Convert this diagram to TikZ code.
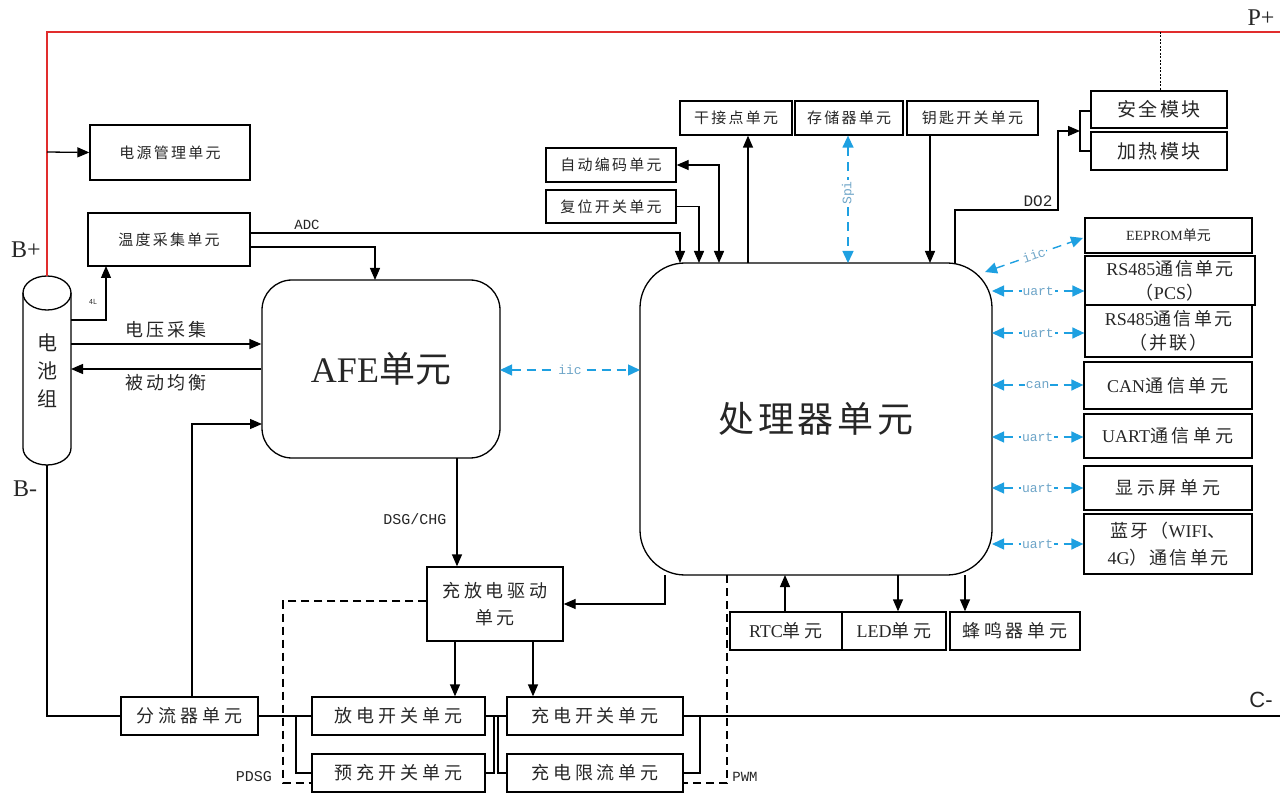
\documentclass[tikz,border=0pt]{standalone}
\usepackage{fontspec}
\setmainfont{Noto Sans CJK SC}
\newfontfamily\lat{Liberation Serif}
\newfontfamily\mono{Liberation Mono}
\newfontfamily\lsans{Liberation Sans}
\usetikzlibrary{arrows.meta,calc}
\definecolor{bl}{RGB}{30,160,225}
\definecolor{bll}{RGB}{110,165,200}
\definecolor{rd}{RGB}{225,45,45}
\begin{document}
\begin{tikzpicture}[x=1pt,y=-1pt,
 box/.style={draw,line width=1.3pt,inner sep=0pt,align=center,text=black!85},
 arr/.style={line width=1.3pt,-{Triangle[length=12pt,width=10pt]}},
 darr/.style={line width=1.3pt,{Triangle[length=12pt,width=10pt]}-{Triangle[length=12pt,width=10pt]}},
 ln/.style={line width=1.3pt},
 dsh/.style={line width=1.2pt,dash pattern=on 8pt off 5pt},
 barr/.style={bl,line width=1.4pt,dash pattern=on 9pt off 6pt,{Triangle[length=12pt,width=11pt]}-{Triangle[length=12pt,width=11pt]}},
 blab/.style={fill=white,text=bll,inner sep=1pt,font=\mono\fontsize{13}{14}\selectfont},
 lab/.style={inner sep=0pt,text=black!85},
 mlab/.style={inner sep=0pt,text=black!85,font=\mono\fontsize{14}{15}\selectfont},
 t14/.style={font=\fontsize{14}{16}\selectfont},
 t15/.style={font=\fontsize{15}{18}\selectfont\addfontfeature{LetterSpace=15}},
 t17/.style={font=\fontsize{18}{24}\selectfont\addfontfeature{LetterSpace=12}},
 t18/.style={font=\fontsize{18}{27}\selectfont\addfontfeature{LetterSpace=22}},
 t19/.style={font=\fontsize{19}{22}\selectfont\addfontfeature{LetterSpace=14}},
]
\useasboundingbox (0,0) rectangle (1286,794);

% ---------- nodes ----------
\node[box,minimum width=160,minimum height=55,t15] (pwr) at (170,152.5) {电源管理单元};
\node[box,minimum width=162,minimum height=53,t15] (temp) at (169,239.5) {温度采集单元};
\node[box,minimum width=238,minimum height=178,rounded corners=30pt,font=\fontsize{36}{40}\selectfont] (afe) at (381,369) {{\lat AFE}单元};
\node[box,minimum width=352,minimum height=312,rounded corners=45pt,font=\fontsize{36}{40}\selectfont\addfontfeature{LetterSpace=10}] (proc) at (816,419) {\raisebox{4pt}{处理器单元}};
\node[box,minimum width=130,minimum height=34,t15] (auto) at (611,165) {自动编码单元};
\node[box,minimum width=130,minimum height=33,t15] (reset) at (611,206.5) {复位开关单元};
\node[box,minimum width=112,minimum height=34,t15] (dry) at (736,118) {干接点单元};
\node[box,minimum width=108,minimum height=34,t15] (mem) at (849,118) {存储器单元};
\node[box,minimum width=131,minimum height=34,t15] (key) at (972.5,118) {钥匙开关单元};
\node[box,minimum width=136,minimum height=37,t19] (safe) at (1159,109.5) {安全模块};
\node[box,minimum width=136,minimum height=38,t19] (heat) at (1159,151) {加热模块};
\node[box,minimum width=167,minimum height=35,t14] (eep) at (1168.5,235.5) {{\lat EEPROM}单元};
\node[box,minimum width=170,minimum height=49,t17] (rs1) at (1170,280.5) {{\lat RS485}通信单元\\（{\lat PCS}）};
\node[box,minimum width=167,minimum height=52,t17] (rs2) at (1168.5,331) {{\lat RS485}通信单元\\（并联）};
\node[box,minimum width=168,minimum height=47,t18] (can) at (1168,385.5) {{\lat CAN}通信单元};
\node[box,minimum width=168,minimum height=44,t18] (uartb) at (1168,436) {{\lat UART}通信单元};
\node[box,minimum width=168,minimum height=44,t18] (disp) at (1168,488) {显示屏单元};
\node[box,minimum width=168,minimum height=60,font=\fontsize{18}{27}\selectfont\addfontfeature{LetterSpace=12}] (bt) at (1168,544) {蓝牙（{\lat WIFI}、\\{\lat 4G}）通信单元};
\node[box,minimum width=112,minimum height=38,t18] (rtc) at (786,631) {{\lat RTC}单元};
\node[box,minimum width=104,minimum height=38,t18] (led) at (894,631) {{\lat LED}单元};
\node[box,minimum width=130,minimum height=38,t18] (buz) at (1015,631) {蜂鸣器单元};
\node[box,minimum width=136,minimum height=74,t18] (drv) at (495,604) {充放电驱动\\单元};
\node[box,minimum width=173,minimum height=38,t18] (dis) at (398.5,716) {放电开关单元};
\node[box,minimum width=173,minimum height=38,t18] (pre) at (398.5,773) {预充开关单元};
\node[box,minimum width=176,minimum height=38,t18] (chg) at (595,716) {充电开关单元};
\node[box,minimum width=176,minimum height=38,t18] (lim) at (595,773) {充电限流单元};
\node[box,minimum width=137,minimum height=38,t18] (shunt) at (189.5,716) {分流器单元};

% ---------- battery ----------
\draw[ln,fill=white] (23,293) -- (23,448) arc (180:0:24 and 17) -- (71,293);
\draw[ln] (47,293) ellipse (24 and 17);
\node[lab,align=center,font=\fontsize{20}{28}\selectfont] (bat) at (47,371) {电\\池\\组};
\coordinate (btop) at (47,276);
\coordinate (bbot) at (47,465);
\coordinate (b4l) at (71,320);
\coordinate (bv) at (71,344);
\coordinate (bb) at (71,369);

% ---------- labels ----------
\node[lab,font=\lat\fontsize{24}{26}\selectfont] (bplus) at (26,250) {B+};
\node[lab,font=\lat\fontsize{24}{26}\selectfont] (bminus) at (25,489) {B-};
\node[lab,font=\lat\fontsize{24}{26}\selectfont] (pplus) at (1261,18) {P+};
\node[lab,font=\lsans\fontsize{22}{24}\selectfont] (cminus) at (1261,700) {C-};

% ---------- power lines ----------
\coordinate (ptop) at (47,32);
\coordinate (pend) at (1280,32);
\draw[rd,line width=1.5pt] (btop) -- (ptop) -- (pend);
\coordinate (pj) at (1160,32);
\draw[line width=1pt,dash pattern=on 2pt off 1.5pt] (pj) -- (pj |- safe.north);
\coordinate (pw) at (47,152);
\draw[arr] (pw) -- (pwr.west);

% battery to temp (4L)
\coordinate (t4l) at (106,266);
\draw[arr] (b4l) -| (t4l);
\node[lab,font=\fontsize{7}{8}\selectfont] (l4l) at (93,302) {4L};
% voltage, balance
\draw[arr] (bv) -- (bv -| afe.west) node[lab,midway,above=5pt,font=\fontsize{18}{20}\selectfont\addfontfeature{LetterSpace=17}] {电压采集};
\draw[arr] (bb -| afe.west) -- (bb) node[lab,midway,below=5pt,font=\fontsize{18}{20}\selectfont\addfontfeature{LetterSpace=17}] {被动均衡};

% battery - shunt
\coordinate (bsh) at (47,716);
\draw[ln] (bbot) -- (bsh) -- (shunt.west);
% shunt -> AFE
\coordinate (a424) at (262,424);
\coordinate (shn) at (192,697);
\draw[arr] (shn) |- (a424);

% temp -> AFE and ADC
\coordinate (tA) at (250,233);
\coordinate (tB) at (250,247);
\coordinate (afeIn) at (375,280);
\coordinate (pADC) at (680,263);
\draw[arr] (tB) -| (afeIn);
\draw[arr] (tA) -| (pADC);
\node[mlab] (adc) at (307,225) {ADC};

% reset / auto
\coordinate (pRst) at (699,263);
\coordinate (pAuto) at (719,263);
\draw[arr] (reset.east) -| (pRst);
\draw[darr] (pAuto) |- (auto.east);
% dry
\coordinate (pDry) at (748,263);
\draw[arr] (pDry) -- (pDry |- dry.south);
% spi
\coordinate (pSpi) at (848,263);
\draw[barr] (pSpi |- mem.south) -- (pSpi) node[blab,pos=0.45,rotate=90] {Spi};
% key
\coordinate (pKey) at (930,263);
\draw[arr] (pKey |- key.south) -- (pKey);
% DO2
\coordinate (pDo) at (955,263);
\coordinate (do1) at (955,210);
\coordinate (do2) at (1058,210);
\coordinate (do3) at (1058,131);
\coordinate (brk) at (1080,131);
\draw[arr] (pDo) -- (do1) -- (do2) -- (do3) -- (brk);
\node[lab,font=\mono\fontsize{16}{17}\selectfont] (do) at (1038,201) {DO2};
\coordinate (bk1) at (1080,111);
\coordinate (bk2) at (1080,151);
\draw[ln] (bk1 -| safe.west) -- (bk1) -- (bk2) -- (heat.west);

% AFE-proc iic
\coordinate (ai) at (500,370);
\coordinate (pi) at (640,370);
\draw[barr] (ai) -- node[blab] {iic} (pi);

% right side comm
\coordinate (pe) at (985,272);
\coordinate (ee) at (1083,238);
\draw[barr] (pe) -- node[blab,sloped] {iic} (ee);
\foreach \yy/\lb/\nn in {291/uart/rs1,333/uart/rs2,385/can/can,437/uart/uartb,488/uart/disp,544/uart/bt}{
  \draw[barr] (992,\yy) -- node[blab] {\lb} (\nn.west |- 0,\yy);
}

% bottom units
\coordinate (pRtc) at (785,575);
\draw[arr] (pRtc |- rtc.north) -- (pRtc);
\coordinate (pLed) at (898,575);
\draw[arr] (pLed) -- (pLed |- led.north);
\coordinate (pBuz) at (965,575);
\draw[arr] (pBuz) -- (pBuz |- buz.north);

% AFE -> driver
\coordinate (aD) at (457,458);
\draw[arr] (aD) -- (aD |- drv.north);
\node[lab,font=\mono\fontsize{15}{16}\selectfont] (dsg) at (415,519) {DSG/CHG};
% proc -> driver
\coordinate (pDr) at (665,575);
\draw[arr] (pDr) |- (drv.east);
% driver -> switches
\coordinate (d1) at (455,641);
\coordinate (d2) at (533,641);
\draw[arr] (d1) -- (d1 |- dis.north);
\draw[arr] (d2) -- (d2 |- chg.north);

% power path
\draw[ln] (shunt.east) -- (dis.west);
\coordinate (j1) at (296,716);
\draw[ln] (j1) |- (pre.west);
\coordinate (j2) at (498,716);
\coordinate (j3) at (494,773);
\draw[ln] (dis.east) -- (j2) |- (lim.west);
\draw[ln] (pre.east) -- (j3) |- (chg.west);
\coordinate (cend) at (1280,716);
\draw[ln] (chg.east) -- (cend);
\coordinate (j4) at (700,716);
\draw[ln] (j4) |- (lim.east);

% dashed control lines
\coordinate (ds1) at (283,601);
\coordinate (ds2) at (283,783);
\draw[dsh] (drv.west |- ds1) -- (ds1) -- (ds2) -- (ds2 -| pre.west);
\node[mlab,font=\mono\fontsize{15}{16}\selectfont] (pdsg) at (254,777) {PDSG};
\coordinate (pw1) at (727,575);
\coordinate (pw2) at (727,783);
\draw[dsh] (pw1) -- (pw2) -- (pw2 -| lim.east);
\node[mlab] (pwm) at (745,777) {PWM};
\end{tikzpicture}
\end{document}
